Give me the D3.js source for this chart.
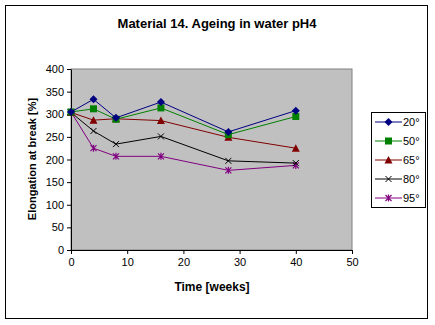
<!DOCTYPE html>
<html>
<head>
<meta charset="utf-8">
<script src="https://cdn.jsdelivr.net/npm/d3@7"></script>
<style>
  body { margin: 0; background: #fff; }
  svg { display: block; font-family: "Liberation Sans", Arial, sans-serif; }
</style>
</head>
<body>
<svg id="chart" width="435" height="325"></svg>
<script>
// ageing data, elongation at break [%] by week
const weeks = [0, 4, 8, 16, 28, 40];
const seriesNames = ["20°", "50°", "65°", "80°", "95°"];
const s20 = [305, 333, 292, 327, 261, 308];
const s50 = [305, 312, 289, 314, 255, 295];
const s65 = [304, 287, 290, 286, 249, 225];
const s80 = [304, 263, 234, 251, 197, 192];
const s95 = [305, 225, 207, 207, 176, 187];
const xTicks = [0, 10, 20, 30, 40, 50];
const yTicks = [0, 50, 100, 150, 200, 250, 300, 350, 400];

const colors = ["#000080", "#008000", "#800000", "#000000", "#800080"];
const shapes = ["diamond", "square", "triangle", "cross", "star"];
const series = [s20, s50, s65, s80, s95].map((v, i) => ({
  name: seriesNames[i], values: v, color: colors[i], shape: shapes[i]
}));

const svg = d3.select("#chart");
const plot = {left: 71, top: 69, right: 352, bottom: 250};

const x = d3.scaleLinear().domain([0, 50]).range([plot.left, plot.right]);
const y = d3.scaleLinear().domain([0, 400]).range([plot.bottom, plot.top]);

// outer frame
svg.append("rect")
  .attr("x", 5.5).attr("y", 5.5).attr("width", 422).attr("height", 313)
  .attr("fill", "#fff").attr("stroke", "#000").attr("stroke-width", 1);

svg.append("text")
  .attr("x", 217).attr("y", 28)
  .attr("text-anchor", "middle")
  .style("font-size", "13px").style("font-weight", "bold")
  .text("Material 14. Ageing in water pH4");

// plot area
svg.append("rect")
  .attr("x", plot.left).attr("y", plot.top)
  .attr("width", plot.right - plot.left).attr("height", plot.bottom - plot.top)
  .attr("fill", "#c0c0c0").attr("stroke", "#808080");

const xAxis = svg.append("g")
  .attr("transform", `translate(0,${plot.bottom})`)
  .call(d3.axisBottom(x).tickValues(xTicks).tickSizeInner(4).tickSizeOuter(0).tickPadding(4));
const yAxis = svg.append("g")
  .attr("transform", `translate(${plot.left},0)`)
  .call(d3.axisLeft(y).tickValues(yTicks).tickSizeInner(4).tickSizeOuter(0).tickPadding(3));
[xAxis, yAxis].forEach(g => {
  g.selectAll("text").style("font-size", "11px").style("font-family", "Liberation Sans, Arial, sans-serif").attr("fill", "#000");
  g.selectAll("line, path").attr("stroke", "#000");
});

svg.append("text")
  .attr("x", 212).attr("y", 291)
  .attr("text-anchor", "middle")
  .style("font-size", "12px").style("font-weight", "bold")
  .text("Time [weeks]");

svg.append("text")
  .attr("transform", "translate(36,159) rotate(-90)")
  .attr("text-anchor", "middle")
  .style("font-size", "11px").style("font-weight", "bold")
  .text("Elongation at break [%]");

function drawMarker(g, shape, color, cx, cy) {
  if (shape === "diamond") {
    g.append("path").attr("d", `M${cx},${cy-4}L${cx+4},${cy}L${cx},${cy+4}L${cx-4},${cy}Z`).attr("fill", color);
  } else if (shape === "square") {
    g.append("rect").attr("x", cx - 3.5).attr("y", cy - 3.5).attr("width", 7).attr("height", 7).attr("fill", color);
  } else if (shape === "triangle") {
    g.append("path").attr("d", `M${cx},${cy-4}L${cx+4},${cy+3.5}L${cx-4},${cy+3.5}Z`).attr("fill", color);
  } else if (shape === "cross") {
    g.append("path").attr("d", `M${cx-3},${cy-3}L${cx+3},${cy+3}M${cx-3},${cy+3}L${cx+3},${cy-3}`)
      .attr("stroke", color).attr("stroke-width", 1);
  } else {
    g.append("path").attr("d", `M${cx-3},${cy-3}L${cx+3},${cy+3}M${cx-3},${cy+3}L${cx+3},${cy-3}M${cx},${cy-3.5}L${cx},${cy+3.5}`)
      .attr("stroke", color).attr("stroke-width", 1.2);
  }
}

const line = d3.line().x((d, i) => x(weeks[i])).y(d => y(d));

// draw back to front so 20° sits on top
series.slice().reverse().forEach(s => {
  const g = svg.append("g");
  g.append("path").attr("d", line(s.values)).attr("fill", "none")
    .attr("stroke", s.color).attr("stroke-width", 1);
  s.values.forEach((v, i) => drawMarker(g, s.shape, s.color, x(weeks[i]), y(v)));
});

// legend
const legend = svg.append("g");
legend.append("rect")
  .attr("x", 371.5).attr("y", 112.5).attr("width", 54).attr("height", 95)
  .attr("fill", "#fff").attr("stroke", "#000");
series.forEach((s, i) => {
  const ly = 122 + i * 19;
  legend.append("line").attr("x1", 375).attr("x2", 402).attr("y1", ly).attr("y2", ly)
    .attr("stroke", s.color);
  drawMarker(legend, s.shape, s.color, 388.5, ly);
  legend.append("text").attr("x", 403).attr("y", ly + 4)
    .style("font-size", "11px").text(s.name);
});
</script>
</body>
</html>
